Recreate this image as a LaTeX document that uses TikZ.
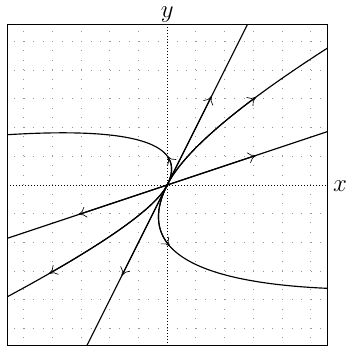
\documentclass[tikz,border=0pt]{standalone}
\usetikzlibrary{arrows.meta}
\begin{document}
\begin{tikzpicture}[x=28.7pt,y=28.7pt,
  traj/.style={line width=1.15pt},
  tip/.style={-{To[length=8pt,width=11pt,line width=0.65pt]}},
  gridline/.style={gray!80, line width=0.85pt, dash pattern=on 0.85pt off 8.717pt},
  axisline/.style={black, line width=0.6pt, dash pattern=on 0.6pt off 2.4pt},
  lab/.style={font=\Huge, inner sep=0pt}]
\useasboundingbox (-167.2pt,-162pt) rectangle (178.8pt,185pt);
\def\B{5.58}
\begin{scope}
  \clip (-\B,-\B) rectangle (\B,\B);
  \foreach \i in {-5,...,-1,1,2,...,5} {
    \draw[gridline] (\i,-6) -- (\i,6);
    \draw[gridline] (-6,\i) -- (6,\i);
  }
  \draw[axisline] (-6,0) -- (6,0);
  \draw[axisline] (0,-6) -- (0,6);
  \coordinate (O) at (0,0);
  % eigen-direction (1,2)
  \draw[traj] (O) -- (3,6);
  \draw[traj] (O) -- (-3,-6);
  \draw[traj,tip] (O) -- (1.55,3.1);
  \draw[traj,tip] (O) -- (-1.58,-3.16);
  % eigen-direction (3,1)
  \draw[traj] (O) -- (6,2);
  \draw[traj] (O) -- (-6,-2);
  \draw[traj,tip] (O) -- (3.1,1.0333);
  \draw[traj,tip] (O) -- (-3.1,-1.0333);
  % top-right trajectory
  \draw[traj] plot[domain=0:1.8, samples=90, variable=\t] ({\t+3*0.42*\t*\t},{2*\t+0.42*\t*\t});
  \draw[traj,tip] plot[domain=0:1.22, samples=60, variable=\t] ({\t+3*0.42*\t*\t},{2*\t+0.42*\t*\t});
  % top-left trajectory
  \draw[traj] plot[domain=0:2.25, samples=110, variable=\t] ({\t-3*0.55*\t*\t},{2*\t-0.55*\t*\t});
  \draw[traj,tip] plot[domain=0:0.6, samples=40, variable=\t] ({\t-3*0.55*\t*\t},{2*\t-0.55*\t*\t});
  % bottom-left trajectory
  \draw[traj] plot[domain=0:-1.3, samples=90, variable=\t] ({\t-3*0.97*\t*\t},{2*\t-0.97*\t*\t});
  \draw[traj,tip] plot[domain=0:-1.03, samples=60, variable=\t] ({\t-3*0.97*\t*\t},{2*\t-0.97*\t*\t});
  % bottom-right trajectory
  \draw[traj] plot[domain=0:-3.4, samples=140, variable=\t] ({\t+3*0.275*\t*\t},{2*\t+0.275*\t*\t});
  \draw[traj,tip] plot[domain=0:-1.3, samples=60, variable=\t] ({\t+3*0.275*\t*\t},{2*\t+0.275*\t*\t});
\end{scope}
\draw[line width=0.8pt] (-\B,-\B) rectangle (\B,\B);
\node[lab] (ylab) at (0,5.93) {$y$};
\node[lab] (xlab) at (6.02,-0.05) {$x$};
\end{tikzpicture}
\end{document}
